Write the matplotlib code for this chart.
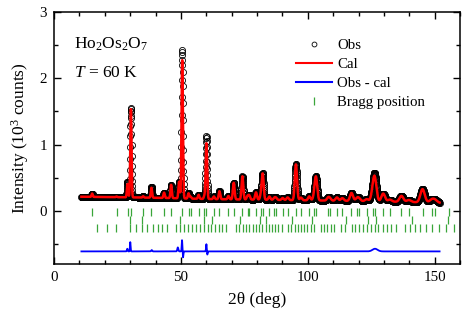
import numpy as np
import matplotlib
matplotlib.use("Agg")
import matplotlib.pyplot as plt
from matplotlib.lines import Line2D
from matplotlib.ticker import MultipleLocator

plt.rcParams['font.family'] = ['Liberation Serif', 'DejaVu Serif']
plt.rcParams['mathtext.fontset'] = 'custom'
plt.rcParams['mathtext.rm'] = 'Liberation Serif'
plt.rcParams['mathtext.it'] = 'Liberation Serif:italic'

# ---- data ----
# Bragg positions (deg), three phases
bragg_row1 = [15.02, 24.64, 28.98, 30.30, 35.13, 38.40, 43.38, 46.16, 50.53, 53.02,
              53.83, 57.00, 59.31, 60.06, 63.03, 65.20, 68.75, 70.84, 74.25, 76.27,
              76.94, 79.61, 81.59, 82.25, 84.88, 86.84, 87.50, 90.11, 92.07, 95.33,
              97.30, 100.60, 102.60, 103.26, 108.01, 108.70, 111.48, 113.62, 117.24,
              119.46, 120.20, 123.25, 125.62, 126.42, 129.74, 132.33, 136.91, 139.85,
              145.23, 148.83, 150.10, 155.85]
bragg_row2 = [29.91, 34.67, 49.85, 59.23, 62.15, 73.16, 81.01, 83.58, 93.77, 101.48,
              114.88, 123.62, 126.76, 140.90, 155.40]
bragg_row3 = [17.10, 20.99, 24.28, 29.85, 32.30, 34.60, 36.77, 38.84, 40.82, 42.72,
              44.56, 48.06, 49.75, 51.39, 52.99, 54.56, 56.10, 57.62, 59.10, 60.56,
              62.01, 63.43, 64.84, 66.23, 67.61, 71.67, 73.00, 74.32, 75.64, 76.93,
              78.23, 79.53, 80.81, 82.10, 83.38, 84.65, 85.92, 87.19, 88.46, 89.72,
              92.26, 93.52, 94.79, 96.06, 97.33, 98.60, 99.89, 101.18, 102.49, 105.09,
              106.41, 107.74, 109.07, 110.42, 113.14, 114.53, 117.34, 118.78, 120.25,
              121.71, 123.22, 124.75, 126.31, 127.87, 129.49, 131.15, 132.85, 134.60,
              138.31, 140.26, 142.24, 144.36, 146.59, 149.00, 151.57, 154.36, 157.47]

# calculated-profile peaks (position deg, height above background, 10^3 counts)
peak_pos = [15.02, 24.64, 28.98, 30.30, 35.13, 38.40, 43.38, 46.16, 49.30, 50.53,
            53.02, 53.83, 57.00, 59.31, 60.06, 63.03, 65.20, 68.75, 70.84, 74.25,
            76.27, 76.94, 79.61, 81.59, 82.25, 84.88, 86.84, 87.50, 90.11, 92.07,
            95.33, 97.30, 100.60, 102.60, 103.26, 108.01, 108.70, 111.48, 113.62,
            117.24, 119.46, 120.20, 123.25, 125.62, 126.42, 129.74, 132.33, 136.91,
            139.85, 145.23, 148.83, 150.10]
peak_height = [0.05, 0.01, 0.20, 1.33, 0.02, 0.15, 0.08, 0.20, 0.25, 2.09,
               0.08, 0.03, 0.06, 0.05, 0.84, 0.04, 0.12, 0.05, 0.25, 0.35,
               0.05, 0.06, 0.11, 0.08, 0.38, 0.05, 0.03, 0.03, 0.03, 0.04,
               0.54, 0.04, 0.06, 0.08, 0.33, 0.04, 0.03, 0.05, 0.04,
               0.12, 0.04, 0.03, 0.03, 0.12, 0.32, 0.12, 0.03, 0.09,
               0.03, 0.20, 0.04, 0.04]

# background knots
bg_pos = [10, 20, 30, 45, 60, 80, 100, 120, 140, 153]
bg_val = [0.215, 0.21, 0.205, 0.195, 0.18, 0.17, 0.16, 0.15, 0.135, 0.12]

# peak width knots (sigma, deg)
width_pos = [10, 60, 100, 130, 155]
width_val = [0.22, 0.28, 0.45, 0.7, 0.95]

# misfit features in obs - cal (position, amplitude, width)
res_pos = [28.9, 30.05, 38.5, 48.8, 50.45, 50.85, 60.05, 60.4, 126.5]
res_amp = [0.04, 0.14, 0.02, 0.06, 0.17, -0.09, 0.11, -0.05, 0.04]
res_wid = [0.15, 0.12, 0.2, 0.2, 0.12, 0.12, 0.13, 0.13, 1.0]

res_offset = -0.61
row_y = [-0.02, -0.14, -0.26]

# ---- build profile ----
tt = np.arange(10.8, 152.0, 0.05)
bg = np.interp(tt, bg_pos, bg_val)
sig = np.interp(tt, width_pos, width_val)
cal = bg.copy()
for p, h in zip(peak_pos, peak_height):
    cal += h * np.exp(-0.5 * ((tt - p) / sig) ** 2)
res = np.zeros_like(tt)
for p, a, w in zip(res_pos, res_amp, res_wid):
    res += a * np.exp(-0.5 * ((tt - p) / w) ** 2)
obs = cal + res

fig = plt.figure(figsize=(4.63, 3.12), dpi=100)
ax = fig.add_axes([54/463, 48/312, 406/463, 252/312])

green = '#3aa63a'
ax.plot(tt, obs, 'o', ms=4.4, mfc='none', mec='black', mew=0.6, zorder=2)
ax.plot(tt, cal, '-', color='#ff0000', lw=1.8, zorder=3)
ax.plot(tt, res + res_offset, '-', color='#0000ff', lw=1.3, zorder=3)
for row, yy in zip([bragg_row1, bragg_row2, bragg_row3], row_y):
    ax.plot(row, [yy] * len(row), '|', color=green, ms=5.5, mew=0.9, zorder=2)

ax.set_xlim(0, 160)
ax.set_ylim(-0.8, 3)
ax.xaxis.set_major_locator(MultipleLocator(50))
ax.xaxis.set_minor_locator(MultipleLocator(10))
ax.yaxis.set_major_locator(MultipleLocator(1))
ax.yaxis.set_minor_locator(MultipleLocator(0.5))
ax.tick_params(which='both', direction='in', top=True, right=True, labelsize=10.8, width=1.0)
ax.tick_params(which='major', length=5, pad=5)
ax.tick_params(which='minor', length=3)
for s in ax.spines.values():
    s.set_linewidth(1.1)

ax.set_xlabel('2θ (deg)', fontsize=12.5, labelpad=6)
ax.set_ylabel('Intensity (10$^{3}$ counts)', fontsize=12.5, labelpad=6)

ax.text(0.05, 0.872, 'Ho$_2$Os$_2$O$_7$', transform=ax.transAxes, fontsize=12.5, va='center', ha='left')
ax.text(0.05, 0.758, '$T$ = 60 K', transform=ax.transAxes, fontsize=12.5, va='center', ha='left')

handles = [
    Line2D([], [], ls='none', marker='o', ms=3.5, mfc='none', mec='black', mew=0.6),
    Line2D([], [], color='#ff0000', lw=1.5),
    Line2D([], [], color='#0000ff', lw=1.5),
    Line2D([], [], ls='none', marker='|', ms=5.5, mew=0.9, color=green),
]
labels = ['Obs', 'Cal', 'Obs - cal', 'Bragg position']
ax.legend(handles, labels, loc='upper left', bbox_to_anchor=(0.597, 0.895), frameon=False,
          fontsize=10.7, handlelength=2.4, handletextpad=0.35, labelspacing=0.38,
          borderpad=0, borderaxespad=0)

fig.savefig('out.png', dpi=100)
